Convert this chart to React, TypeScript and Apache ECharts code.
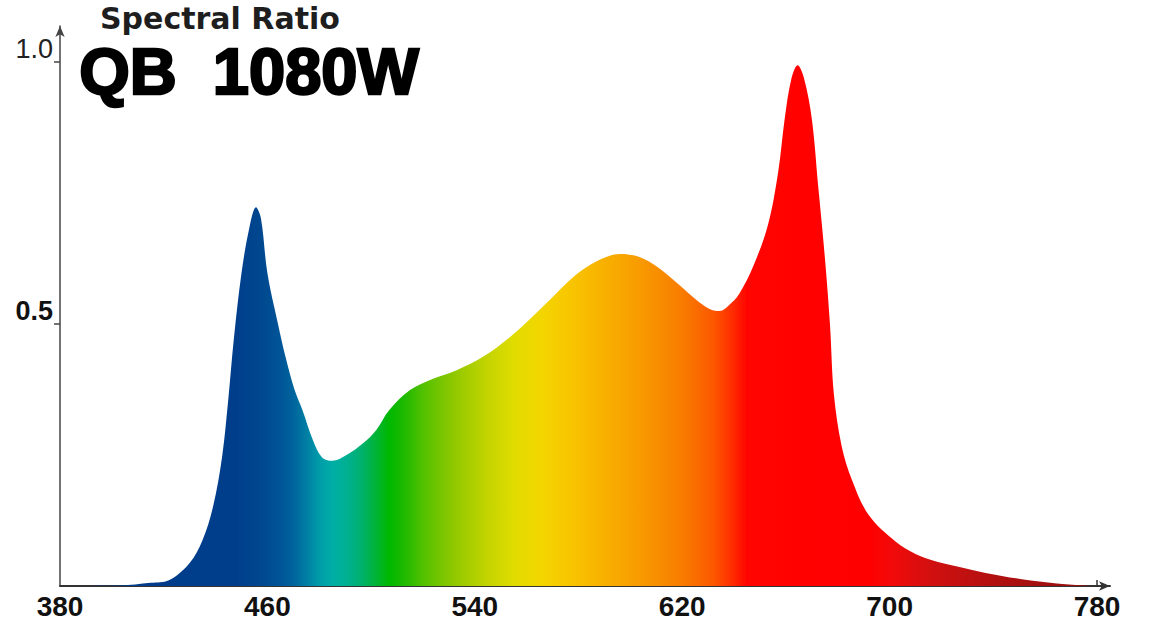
import React, { useEffect, useRef } from 'react';
import * as echarts from 'echarts';

// wavelength (nm) and relative spectral ratio
const wavelengths = [
  380, 403, 415, 422, 430, 435, 439, 442.5, 445, 447, 450, 453, 455.6, 457.5, 460, 464, 467,
  470.5, 473.5, 477.5, 481, 485, 490.5, 497, 502, 507, 515, 522.5, 533, 543, 553.5, 562, 571.5,
  579, 587, 596, 603.5, 611, 619, 625.5, 630.5, 634.5, 638, 642, 647.5, 653, 657, 659.5, 662,
  664.5, 667, 670, 672.5, 675, 677, 678.5, 681.5, 685.5, 692, 702.5, 710, 717, 723.5, 737, 751,
  764.5, 780,
];
const ratios = [
  0, 0.001, 0.006, 0.011, 0.044, 0.088, 0.151, 0.246, 0.361, 0.469, 0.597, 0.683, 0.723, 0.702,
  0.597, 0.502, 0.437, 0.374, 0.336, 0.279, 0.246, 0.239, 0.25, 0.273, 0.298, 0.336, 0.374, 0.393,
  0.412, 0.437, 0.475, 0.513, 0.559, 0.594, 0.62, 0.634, 0.628, 0.607, 0.574, 0.546, 0.529, 0.525,
  0.536, 0.558, 0.612, 0.688, 0.79, 0.891, 0.966, 0.994, 0.969, 0.891, 0.76, 0.628, 0.498, 0.366,
  0.267, 0.202, 0.135, 0.084, 0.061, 0.048, 0.04, 0.025, 0.013, 0.005, 0,
];
const xTicks = [380, 460, 540, 620, 700, 780];
const yTicks = [0.5, 1.0];

// spectrum colours by wavelength
const colorNm = [
  380, 448, 458, 465, 470, 475, 480, 485, 490, 496, 502, 507, 513, 521, 532, 545, 555, 565, 575,
  590, 605, 620, 632, 640, 645, 692, 702, 717, 742, 780,
];
const colorHex = [
  '#003a88', '#003e8c', '#00488f', '#005497', '#00649d', '#007ea4', '#009ca9', '#00aea6', '#00b094',
  '#00b070', '#00b434', '#00b800', '#20ba00', '#58c200', '#90c800', '#c4d400', '#e0dc00', '#f2d600',
  '#f8c800', '#f8b000', '#f89800', '#f87c00', '#fc5800', '#ff2800', '#ff0400', '#ff0000', '#f00a0a',
  '#d01010', '#b01010', '#901010',
];

export default function App() {
  const chartRef = useRef<HTMLDivElement>(null);

  useEffect(() => {
    if (!chartRef.current) return;
    const chart = echarts.init(chartRef.current, null, { renderer: 'svg' });

    const minNm = wavelengths[0];
    const span = wavelengths[wavelengths.length - 1] - minNm;
    const stops = colorNm.map((nm, i) => ({ offset: (nm - minNm) / span, color: colorHex[i] }));

    chart.setOption({
      animation: false,
      grid: { left: 60, right: 41, top: 26, bottom: 35 },
      xAxis: {
        type: 'value',
        min: 380,
        max: 785,
        axisLine: {
          lineStyle: { color: '#333', width: 2 },
          symbol: ['none', 'arrow'],
          symbolSize: [7, 11],
        },
        axisTick: {
          customValues: [780],
          inside: true,
          length: 6,
          lineStyle: { color: '#333', width: 1.5 },
        },
        axisLabel: {
          customValues: xTicks,
          margin: 6,
          color: '#111',
          fontFamily: '"Liberation Sans Narrow", "Liberation Sans", Arial, sans-serif',
          fontWeight: 'bold',
          fontSize: 28,
        },
        splitLine: { show: false },
      },
      yAxis: {
        type: 'value',
        min: 0,
        max: 1.069,
        axisLine: {
          show: true,
          lineStyle: { color: '#444', width: 1.5 },
          symbol: ['none', 'arrow'],
          symbolSize: [7, 11],
        },
        axisTick: {
          show: true,
          customValues: yTicks,
          length: 6,
          lineStyle: { color: '#444', width: 1.5 },
        },
        axisLabel: {
          customValues: yTicks,
          margin: 7,
          verticalAlign: 'bottom',
          formatter: (v: number) => (v === 1 ? '{a|1.0}' : '{b|' + v.toFixed(1) + '}'),
          rich: {
            a: {
              fontFamily: '"Liberation Sans", Arial, sans-serif',
              fontSize: 27,
              color: '#222',
            },
            b: {
              fontFamily: '"Liberation Sans", Arial, sans-serif',
              fontSize: 27,
              fontWeight: 'bold',
              color: '#111',
            },
          },
        },
        splitLine: { show: false },
      },
      series: [
        {
          type: 'line',
          data: wavelengths.map((w, i) => [w, ratios[i]]),
          showSymbol: false,
          smooth: 0.35,
          lineStyle: { width: 0 },
          areaStyle: {
            opacity: 1,
            color: new echarts.graphic.LinearGradient(0, 0, 1, 0, stops),
          },
          z: 1,
        },
      ],
      graphic: [
        {
          type: 'text',
          left: 100,
          top: 3,
          style: {
            text: 'Spectral Ratio',
            fontFamily: '"DejaVu Sans", sans-serif',
            fontWeight: 'bold',
            fontSize: 30,
            lineHeight: 30,
            fill: '#1e1e1e',
          },
        },
        {
          type: 'text',
          left: 78,
          top: 38,
          style: {
            text: 'QB  1080W',
            fontFamily: '"Liberation Sans", Arial, sans-serif',
            fontWeight: 'bold',
            fontSize: 65,
            lineHeight: 55,
            fill: '#000',
            stroke: '#000',
            lineWidth: 2.5,
          },
        },
      ],
    });

    const handleResize = () => chart.resize();
    window.addEventListener('resize', handleResize);
    return () => {
      window.removeEventListener('resize', handleResize);
      chart.dispose();
    };
  }, []);

  return (
    <div
      ref={chartRef}
      style={{ position: 'fixed', left: 0, top: 0, width: 1151, height: 621, background: '#fff' }}
    />
  );
}
